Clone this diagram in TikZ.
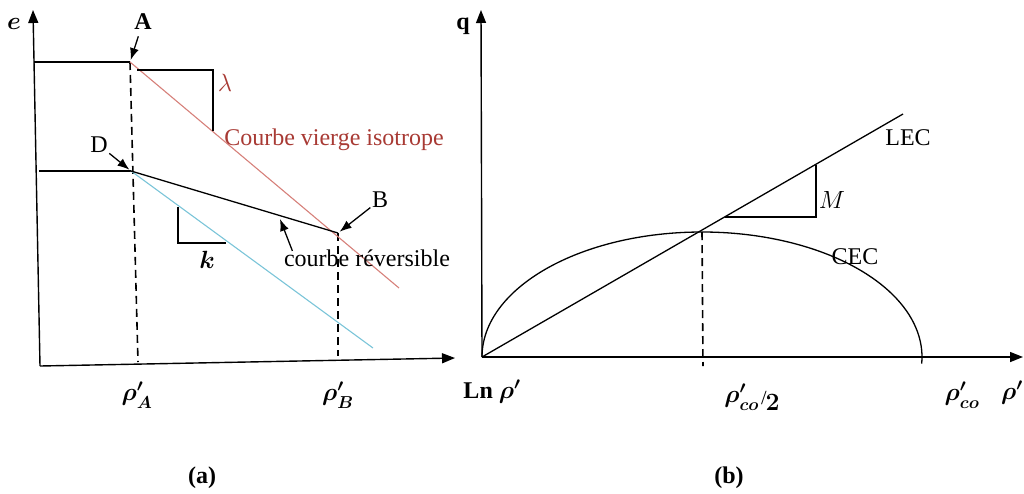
\documentclass[tikz,border=0pt]{standalone}
\usepackage{fontspec}
\setmainfont{Liberation Serif}
\usepackage{amsmath,amssymb}
\usetikzlibrary{arrows.meta,calc}
\definecolor{vierge}{RGB}{214,128,122}
\definecolor{viergetxt}{RGB}{168,58,52}
\definecolor{gonfl}{RGB}{122,196,216}

\begin{document}
\begin{tikzpicture}[x=1pt, y=-1pt, line width=1.3pt,
  every node/.style={inner sep=1pt, font=\fontsize{24}{28}\selectfont},
  mlbl/.style={font=\fontsize{24}{28}\selectfont\boldmath},
  axe/.style={line width=1.4pt, -{Triangle[length=13pt,width=10pt]}},
  pt/.style={line width=1.3pt, -{Latex[length=12pt,width=9pt]}},
  pointille/.style={line width=1.6pt, dash pattern=on 8pt off 5pt}]
  \useasboundingbox (0,0) rectangle (1024,493);

  % (a)
  \coordinate (Oa) at (40,366);
  \coordinate (ea) at (33,10);
  \coordinate (xa) at (455,358);
  \draw[axe] (Oa) -- (ea);
  \draw[axe] (Oa) -- (xa);

  \coordinate (A) at (130,62);
  \coordinate (D) at (131,171);
  \coordinate (B) at (338,233);
  \coordinate (eA) at (34,62);
  \coordinate (eD) at (39,171);
  \coordinate (rA) at (138,362);
  \coordinate (rB) at (338,356);
  \coordinate (vEnd) at (399,288);
  \coordinate (gEnd) at (373,348);
  \coordinate (rev) at (280,219);

  \draw (eA) -- (A);
  \draw (eD) -- (D);
  \draw[pointille] (A) -- (rA);
  \draw[pointille] (B) -- (rB);
  \draw[vierge,line width=1.1pt] (A) -- (vEnd);
  \draw[gonfl,line width=1.1pt] (D) -- (gEnd);
  \draw (D) -- (B);
  \draw (137,70) -- (213,70) -- (213,131);
  \draw (178,207) -- (178,243) -- (226,243);

  \node[mlbl] (le) at (14,24) {$e$};
  \node (lA) at (143,22) {\textbf{A}};
  \node (lD) at (99,145) {D};
  \node (lB) at (380,200) {B};
  \node[text=viergetxt] (llambda) at (225,83) {$\lambda$};
  \node[text=viergetxt] (lvierge) at (334,140) {Courbe vierge isotrope};
  \node (lrev) at (367,258) {courbe réversible};
  \node[mlbl] (lk) at (207,260) {$k$};
  \node[mlbl] (lrA) at (137,395) {$\rho'_A$};
  \node[mlbl] (lrB) at (338,395) {$\rho'_B$};
  \node (la) at (202,478) {\textbf{(a)}};

  \draw[pt,shorten <=5pt,shorten >=2pt] (lA) -- (A);
  \draw[pt,shorten >=2pt] (lD) -- (D);
  \draw[pt,shorten >=2pt] (lB) -- (B);
  \draw[pt] ([xshift=10pt,yshift=-3pt]lrev.north west) -- (rev);

  % (b)
  \coordinate (Ob) at (482,357);
  \coordinate (qb) at (481,10);
  \coordinate (xb) at (1023,357);
  \coordinate (C) at (702,232);
  \coordinate (cB) at (703,366);
  \coordinate (lecEnd) at (903,114);
  \draw[axe] (Ob) -- (qb);
  \draw[axe] (Ob) -- (xb);
  \draw (Ob) -- (lecEnd);
  \draw (Ob) arc[start angle=180, end angle=363, x radius=220, y radius=125];
  \draw[pointille] (C) -- (cB);
  \draw (725,217) -- (816,217) -- (816,165);

  \node (lq) at (463,26) {\textbf{q}};
  \node (lLEC) at (908,138) {LEC};
  \node (lCEC) at (855,257) {CEC};
  \node (lM) at (832,200) {$M$};
  \node[mlbl] (lLn) at (492,392) {\textbf{Ln} $\rho'$};
  \node[mlbl] (lmid) at (752,397) {$\rho'_{co}\kern2pt\raisebox{-0.2ex}{\fontsize{20}{24}\selectfont/}\kern-1pt\raisebox{-0.7ex}{$\mathbf{2}$}$};
  \node[mlbl] (lco) at (962,395) {$\rho'_{co}$};
  \node[mlbl] (lrho) at (1012,393) {$\rho'$};
  \node (lb) at (729,478) {\textbf{(b)}};
\end{tikzpicture}
\end{document}
